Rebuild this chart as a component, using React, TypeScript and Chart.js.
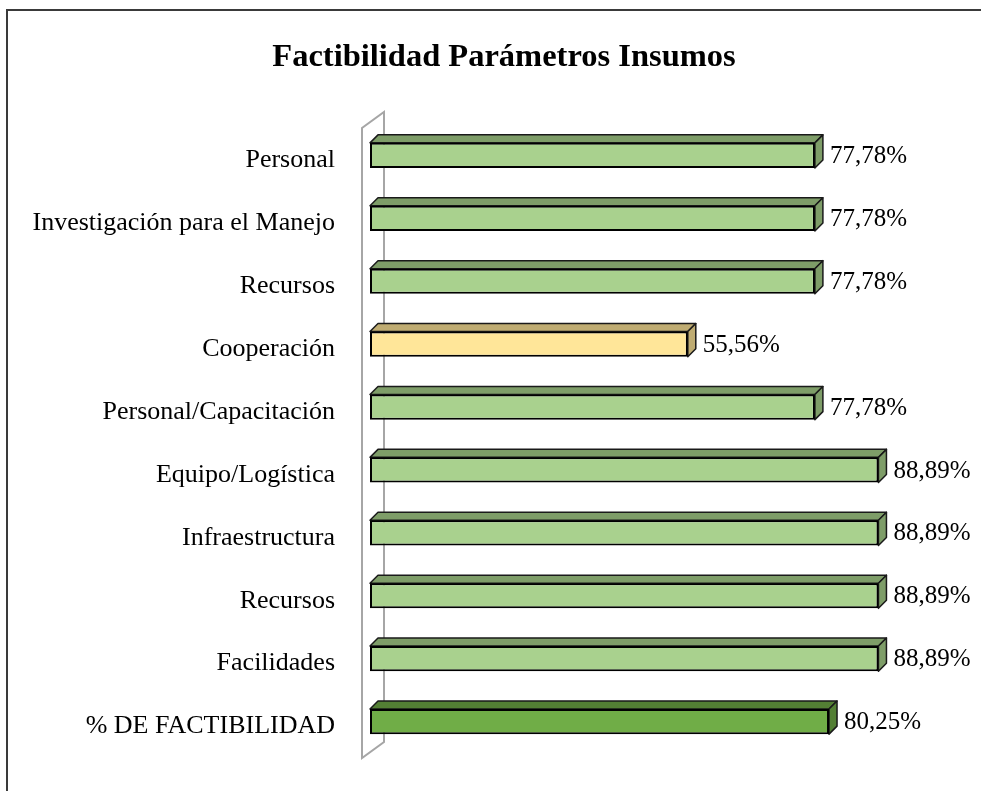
import { useEffect, useRef } from "react";
import { Chart, registerables } from "chart.js";

Chart.register(...registerables);

const titleText = "Factibilidad Parámetros Insumos";
const categories = [
  "Personal",
  "Investigación para el Manejo",
  "Recursos",
  "Cooperación",
  "Personal/Capacitación",
  "Equipo/Logística",
  "Infraestructura",
  "Recursos",
  "Facilidades",
  "% DE FACTIBILIDAD",
];
const values = [77.78, 77.78, 77.78, 55.56, 77.78, 88.89, 88.89, 88.89, 88.89, 80.25];

const frontColors = [
  "#a9d18e", "#a9d18e", "#a9d18e", "#ffe699", "#a9d18e",
  "#a9d18e", "#a9d18e", "#a9d18e", "#a9d18e", "#70ad47",
];
const sideColors = [
  "#7e9d68", "#7e9d68", "#7e9d68", "#bfac72", "#7e9d68",
  "#7e9d68", "#7e9d68", "#7e9d68", "#7e9d68", "#537f34",
];

const SERIF = "'Liberation Serif', 'Times New Roman', serif";
const DEPTH = 8;

const fmt = (v: number) => v.toFixed(2).replace(".", ",") + "%";

const bars3d = {
  id: "bars3d",
  beforeDatasetsDraw(chart: any) {
    const ctx = chart.ctx;
    const ca = chart.chartArea;
    const x0 = chart.scales.x.getPixelForValue(0);
    // 3D wall
    ctx.save();
    ctx.strokeStyle = "#a6a6a6";
    ctx.lineWidth = 2;
    const fx = x0 - 8;
    const bx = x0 + 14;
    ctx.beginPath();
    ctx.moveTo(fx, ca.top + 4);
    ctx.lineTo(fx, ca.bottom + 5);
    ctx.lineTo(bx, ca.bottom - 11);
    ctx.lineTo(bx, ca.top - 12);
    ctx.closePath();
    ctx.stroke();

    const meta = chart.getDatasetMeta(0);
    meta.data.forEach((el: any, i: number) => {
      const p = el.getProps(["x", "y", "base", "height"], true);
      const left = p.base;
      const right = p.x;
      const top = p.y - p.height / 2;
      const bottom = p.y + p.height / 2;
      ctx.fillStyle = sideColors[i];
      ctx.strokeStyle = "#1a1a1a";
      ctx.lineWidth = 1.5;
      ctx.lineJoin = "round";
      // top face
      ctx.beginPath();
      ctx.moveTo(left, top);
      ctx.lineTo(left + DEPTH, top - DEPTH);
      ctx.lineTo(right + DEPTH, top - DEPTH);
      ctx.lineTo(right, top);
      ctx.closePath();
      ctx.fill();
      ctx.stroke();
      // side face
      ctx.beginPath();
      ctx.moveTo(right, top);
      ctx.lineTo(right + DEPTH, top - DEPTH);
      ctx.lineTo(right + DEPTH, bottom - DEPTH);
      ctx.lineTo(right, bottom);
      ctx.closePath();
      ctx.fill();
      ctx.stroke();
    });
    ctx.restore();
  },
  afterDatasetsDraw(chart: any) {
    const ctx = chart.ctx;
    const meta = chart.getDatasetMeta(0);
    ctx.save();
    ctx.fillStyle = "#000";
    ctx.font = `25px ${SERIF}`;
    ctx.textAlign = "left";
    ctx.textBaseline = "middle";
    meta.data.forEach((el: any, i: number) => {
      const p = el.getProps(["x", "y"], true);
      ctx.fillText(fmt(values[i]), p.x + 15, p.y + 1);
    });
    // title
    ctx.font = `bold 32.5px ${SERIF}`;
    ctx.textAlign = "center";
    ctx.fillText(titleText, 504, 58);
    ctx.restore();
  },
};

export default function App() {
  const ref = useRef<HTMLCanvasElement>(null);
  useEffect(() => {
    if (!ref.current) return;
    const chart = new Chart(ref.current, {
      type: "bar",
      data: {
        labels: categories,
        datasets: [
          {
            data: values,
            backgroundColor: frontColors,
            borderColor: "#000",
            borderWidth: 2,
            borderSkipped: false,
            barPercentage: 0.4,
            categoryPercentage: 1,
          },
        ],
      },
      options: {
        indexAxis: "y",
        responsive: false,
        animation: false,
        devicePixelRatio: 1,
        layout: { padding: { left: 0, right: 39, top: 124, bottom: 38 } },
        plugins: {
          legend: { display: false },
          tooltip: { enabled: false },
          title: { display: false },
        },
        scales: {
          x: { min: 0, max: 100, display: false },
          y: {
            grid: { display: false, drawTicks: false },
            border: { display: false },
            ticks: {
              color: "#000",
              font: { family: SERIF, size: 26 },
              padding: 35,
              labelOffset: 5,
            },
            afterFit(scale: any) {
              scale.width = 370;
              scale.paddingTop = 0;
              scale.paddingBottom = 0;
            },
          },
        },
      },
      plugins: [bars3d],
    });
    return () => chart.destroy();
  }, []);

  return (
    <div
      style={{
        position: "fixed",
        left: 0,
        top: 0,
        width: 981,
        height: 791,
        overflow: "hidden",
        background: "#fff",
      }}
    >
      <div
        style={{
          position: "absolute",
          left: 6,
          top: 9,
          width: 1100,
          height: 900,
          border: "2px solid #3a3a3a",
        }}
      />
      <canvas
        ref={ref}
        width={981}
        height={791}
        style={{ position: "absolute", left: 0, top: 0, width: 981, height: 791 }}
      />
    </div>
  );
}
